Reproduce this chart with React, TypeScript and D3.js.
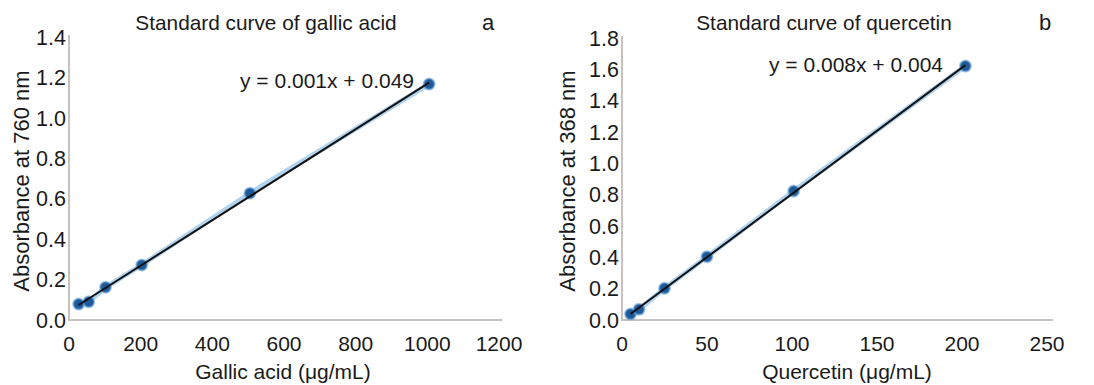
import React from 'react';
import * as d3 from 'd3';

// gallic acid standard (a)
const gallicConc = [27, 55, 102, 203, 505, 1005];
const gallicAbs = [0.079, 0.09, 0.162, 0.272, 0.627, 1.167];
const gallicXTicks = [0, 200, 400, 600, 800, 1000, 1200];
const gallicYTicks = [0, 0.2, 0.4, 0.6, 0.8, 1.0, 1.2, 1.4];

// quercetin standard (b)
const querConc = [5, 10, 25, 50, 101, 202];
const querAbs = [0.038, 0.068, 0.202, 0.404, 0.823, 1.621];
const querXTicks = [0, 50, 100, 150, 200, 250];
const querYTicks = [0, 0.2, 0.4, 0.6, 0.8, 1.0, 1.2, 1.4, 1.6, 1.8];

const FONT = 'Liberation Sans, Arial, sans-serif';
const AXIS = '#c9c1bd';
const DOT = '#1e5a9a';

interface PanelProps {
  xs: number[];
  ys: number[];
  xTicks: number[];
  yTicks: number[];
  xRange: [number, number];
  yRange: [number, number];
  axisEnd: number;
  title: string;
  titleX: number;
  letter: string;
  letterX: number;
  xTitle: string;
  xTitleX: number;
  yTitle: string;
  yTitleX: number;
  eq: string;
  eqRight: number;
  eqY: number;
}

// simple least squares fit
const fit = (xs: number[], ys: number[]) => {
  const mx = d3.mean(xs) as number;
  const my = d3.mean(ys) as number;
  const sxy = d3.sum(xs.map((x, i) => (x - mx) * (ys[i] - my)));
  const sxx = d3.sum(xs.map(x => (x - mx) * (x - mx)));
  const slope = sxy / sxx;
  return { slope, intercept: my - slope * mx };
};

const Panel: React.FC<PanelProps> = p => {
  const x = d3.scaleLinear().domain([p.xTicks[0], p.xTicks[p.xTicks.length - 1]]).range(p.xRange);
  const y = d3.scaleLinear().domain([p.yTicks[0], p.yTicks[p.yTicks.length - 1]]).range(p.yRange);
  const pts = p.xs.map((v, i) => [v, p.ys[i]] as [number, number]);
  const line = d3.line<[number, number]>().x(d => x(d[0])).y(d => y(d[1]));
  const { slope, intercept } = fit(p.xs, p.ys);
  const x0 = d3.min(p.xs) as number;
  const x1 = d3.max(p.xs) as number;
  const fitPts: [number, number][] = [[x0, slope * x0 + intercept], [x1, slope * x1 + intercept]];
  const left = p.xRange[0];
  const bottom = p.yRange[0];

  return (
    <g fontFamily={FONT} fill="#1a1a1a">
      {/* axes */}
      <line x1={left} x2={left} y1={p.yRange[1] - 2} y2={bottom + 1} stroke={AXIS} strokeWidth={2} />
      <line x1={left} x2={p.axisEnd} y1={bottom} y2={bottom} stroke={AXIS} strokeWidth={2} />

      {p.yTicks.map(t => (
        <text key={'y' + t} x={left - 3} y={y(t)} dy="0.36em" textAnchor="end" fontSize={21.5}>
          {t.toFixed(1)}
        </text>
      ))}
      {p.xTicks.map(t => (
        <text key={'x' + t} x={x(t)} y={343} dy="0.36em" textAnchor="middle" fontSize={21}>
          {t}
        </text>
      ))}

      {/* data trace + fitted line */}
      <path d={line(pts) as string} fill="none" stroke="#8ec0ea" strokeWidth={5} opacity={0.7} />
      {pts.map((d, i) => (
        <circle key={i} cx={x(d[0])} cy={y(d[1])} r={5.5} fill={DOT} stroke="#6fa6d8" strokeWidth={2} strokeOpacity={0.6} />
      ))}
      <path d={line(fitPts) as string} fill="none" stroke="#111" strokeWidth={2} />

      <text x={p.eqRight} y={p.eqY} dy="0.36em" textAnchor="end" fontSize={21}>{p.eq}</text>
      <text x={p.titleX} y={23} dy="0.36em" textAnchor="middle" fontSize={20.8}>{p.title}</text>
      <text x={p.letterX} y={22} dy="0.36em" textAnchor="middle" fontSize={22}>{p.letter}</text>
      <text x={p.xTitleX} y={371} dy="0.36em" textAnchor="middle" fontSize={21}>{p.xTitle}</text>
      <text transform={`translate(${p.yTitleX},181) rotate(-90)`} dy="0.36em" textAnchor="middle" fontSize={22}>
        {p.yTitle}
      </text>
    </g>
  );
};

const App: React.FC = () => (
  <svg width={1094} height={385} style={{ position: 'absolute', left: 0, top: 0, background: '#fff' }}>
    <Panel
      xs={gallicConc}
      ys={gallicAbs}
      xTicks={gallicXTicks}
      yTicks={gallicYTicks}
      xRange={[69, 499]}
      yRange={[320, 37]}
      axisEnd={502}
      title="Standard curve of gallic acid"
      titleX={266}
      letter="a"
      letterX={488}
      xTitle="Gallic acid (μg/mL)"
      xTitleX={283}
      yTitle="Absorbance at 760 nm"
      yTitleX={21}
      eq="y = 0.001x + 0.049"
      eqRight={414}
      eqY={80}
    />
    <Panel
      xs={querConc}
      ys={querAbs}
      xTicks={querXTicks}
      yTicks={querYTicks}
      xRange={[622, 1047]}
      yRange={[320, 38]}
      axisEnd={1053}
      title="Standard curve of quercetin"
      titleX={824}
      letter="b"
      letterX={1045}
      xTitle="Quercetin (μg/mL)"
      xTitleX={847}
      yTitle="Absorbance at 368 nm"
      yTitleX={567}
      eq="y = 0.008x + 0.004"
      eqRight={943}
      eqY={64}
    />
  </svg>
);

export default App;
